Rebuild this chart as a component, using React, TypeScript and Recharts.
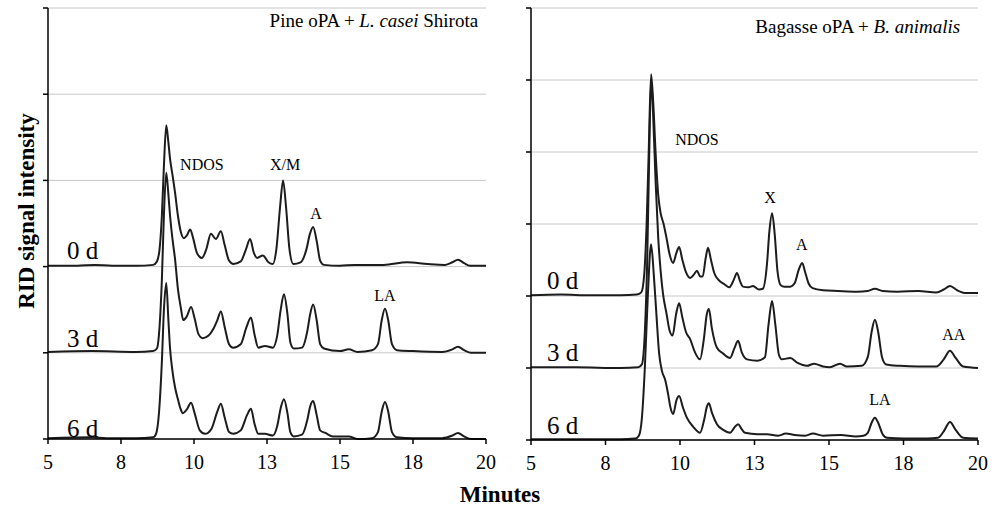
import { LineChart, Line, XAxis, YAxis, CartesianGrid, ReferenceDot } from "recharts";

type Pt = [number, number];

const X_TICKS = [5, 7.5, 10, 12.5, 15, 17.5, 20];
const PINE_Y_TICKS = [0, 1, 2, 3, 4, 5];
const BAGASSE_Y_TICKS = [0, 1, 2, 3, 4, 5, 6];
const DAYS = ["0 d", "3 d", "6 d"];
const DAY_OFFSETS = [2, 1, 0];

// Pine oPA + L. casei Shirota, intensity above each trace's own baseline
const pine0d: Pt[] = [
  [5, 0.01], [6, 0.01], [6.6, 0.02], [7.2, 0.01], [8, 0.01], [8.6, 0.02], [8.73, 0.06], [8.82, 0.2],
  [8.9, 0.59], [8.97, 1.17], [9.05, 1.64], [9.12, 1.45], [9.18, 1.25], [9.27, 1.05], [9.35, 0.86],
  [9.45, 0.59], [9.55, 0.4], [9.65, 0.33], [9.75, 0.36], [9.87, 0.43], [9.97, 0.33], [10.1, 0.16],
  [10.27, 0.1], [10.42, 0.2], [10.58, 0.38], [10.75, 0.32], [10.92, 0.41], [11.05, 0.25], [11.2, 0.07],
  [11.35, 0.03], [11.6, 0.06], [11.78, 0.2], [11.92, 0.32], [12.05, 0.16], [12.16, 0.1], [12.36, 0.13],
  [12.55, 0.05], [12.7, 0.03], [12.82, 0.2], [12.95, 0.7], [13.05, 1.0], [13.15, 0.7], [13.27, 0.2],
  [13.4, 0.03], [13.65, 0.05], [13.85, 0.2], [13.97, 0.38], [14.08, 0.46], [14.2, 0.3], [14.32, 0.07],
  [14.45, 0.02], [15, 0.01], [15.5, 0.02], [16, 0.02], [16.5, 0.02], [17.3, 0.05], [18, 0.03],
  [18.6, 0.02], [18.85, 0.05], [19.04, 0.08], [19.25, 0.04], [19.45, 0.01], [20, 0.01],
];
const pine3d: Pt[] = [
  [5, 0.01], [6.5, 0.02], [8, 0.01], [8.6, 0.02], [8.73, 0.05], [8.82, 0.3], [8.9, 0.85], [8.97, 1.6],
  [9.05, 2.09], [9.12, 1.85], [9.18, 1.59], [9.27, 1.3], [9.35, 1.09], [9.45, 0.74], [9.55, 0.52],
  [9.63, 0.38], [9.75, 0.42], [9.9, 0.53], [10.02, 0.4], [10.15, 0.22], [10.3, 0.17], [10.5, 0.2],
  [10.65, 0.27], [10.8, 0.38], [10.92, 0.48], [11.05, 0.3], [11.2, 0.1], [11.34, 0.06], [11.6, 0.1],
  [11.8, 0.3], [11.95, 0.41], [12.08, 0.2], [12.2, 0.06], [12.43, 0.08], [12.7, 0.06], [12.85, 0.2],
  [12.97, 0.5], [13.08, 0.68], [13.2, 0.45], [13.3, 0.12], [13.42, 0.05], [13.7, 0.06], [13.88, 0.25],
  [13.98, 0.45], [14.08, 0.56], [14.2, 0.38], [14.32, 0.1], [14.45, 0.05], [15, 0.02], [15.3, 0.04],
  [15.6, 0.01], [16.1, 0.03], [16.3, 0.1], [16.43, 0.38], [16.54, 0.51], [16.65, 0.38], [16.78, 0.1],
  [16.95, 0.03], [17.5, 0.02], [18.5, 0.01], [18.85, 0.04], [19.04, 0.07], [19.25, 0.03], [19.5, 0],
  [20, 0],
];
const pine6d: Pt[] = [
  [5, 0.01], [6.5, 0.02], [7, 0.01], [8, 0.01], [8.6, 0.02], [8.7, 0.06], [8.8, 0.3], [8.9, 0.9],
  [8.97, 1.5], [9.05, 1.81], [9.12, 1.4], [9.18, 1.05], [9.25, 0.82], [9.35, 0.6], [9.45, 0.46],
  [9.53, 0.36], [9.62, 0.3], [9.75, 0.34], [9.9, 0.42], [10.02, 0.3], [10.2, 0.1], [10.38, 0.06],
  [10.6, 0.12], [10.8, 0.32], [10.92, 0.41], [11.05, 0.25], [11.2, 0.08], [11.34, 0.06], [11.6, 0.1],
  [11.82, 0.28], [11.95, 0.35], [12.07, 0.18], [12.2, 0.06], [12.43, 0.06], [12.7, 0.04], [12.85, 0.15],
  [12.97, 0.36], [13.08, 0.46], [13.2, 0.3], [13.3, 0.08], [13.42, 0.03], [13.7, 0.05], [13.88, 0.22],
  [13.98, 0.38], [14.08, 0.44], [14.2, 0.28], [14.32, 0.1], [14.5, 0.07], [14.76, 0.03], [15.3, 0.03],
  [15.6, 0], [16.1, 0.01], [16.3, 0.08], [16.43, 0.32], [16.54, 0.43], [16.65, 0.32], [16.78, 0.08],
  [16.95, 0.02], [17.5, 0.01], [18.5, 0.01], [18.85, 0.04], [19.04, 0.07], [19.25, 0.03], [19.5, 0],
  [20, 0],
];

// Bagasse oPA + B. animalis
const bagasse0d: Pt[] = [
  [5, 0.01], [6, 0.02], [7, 0.01], [8, 0.01], [8.55, 0.02], [8.7, 0.05], [8.8, 0.3], [8.88, 1.0],
  [8.95, 2.0], [9.03, 3.08], [9.1, 2.7], [9.18, 2.0], [9.27, 1.4], [9.35, 1.15], [9.45, 1.0],
  [9.55, 0.8], [9.65, 0.58], [9.77, 0.46], [9.88, 0.6], [9.97, 0.68], [10.08, 0.5], [10.2, 0.33],
  [10.34, 0.25], [10.47, 0.3], [10.57, 0.35], [10.68, 0.27], [10.76, 0.27], [10.86, 0.52], [10.94, 0.67],
  [11.04, 0.5], [11.15, 0.32], [11.3, 0.22], [11.5, 0.16], [11.65, 0.12], [11.8, 0.22], [11.91, 0.32],
  [12.02, 0.2], [12.11, 0.13], [12.3, 0.12], [12.45, 0.14], [12.65, 0.09], [12.78, 0.1], [12.92, 0.45],
  [13.0, 0.9], [13.09, 1.15], [13.18, 0.85], [13.27, 0.35], [13.38, 0.15], [13.5, 0.13], [13.7, 0.13],
  [13.85, 0.18], [13.98, 0.36], [14.1, 0.46], [14.2, 0.33], [14.32, 0.17], [14.45, 0.11], [14.8, 0.08],
  [15.3, 0.07], [15.94, 0.06], [16.3, 0.07], [16.54, 0.1], [16.8, 0.07], [17.3, 0.06], [18, 0.07],
  [18.6, 0.05], [18.85, 0.09], [19.06, 0.14], [19.3, 0.08], [19.6, 0.04], [20, 0.04],
];
const bagasse3d: Pt[] = [
  [5, 0.01], [6.5, 0.01], [8, 0], [8.6, 0.01], [8.72, 0.05], [8.82, 0.5], [8.9, 1.5], [8.96, 2.8],
  [9.03, 4.0], [9.1, 3.5], [9.18, 2.6], [9.27, 1.8], [9.35, 1.35], [9.43, 1.03], [9.55, 0.75],
  [9.65, 0.52], [9.75, 0.45], [9.87, 0.75], [9.97, 0.9], [10.08, 0.7], [10.2, 0.5], [10.34, 0.4],
  [10.5, 0.22], [10.67, 0.12], [10.8, 0.4], [10.9, 0.75], [10.97, 0.82], [11.07, 0.55], [11.24, 0.28],
  [11.45, 0.2], [11.68, 0.14], [11.83, 0.28], [11.95, 0.38], [12.07, 0.22], [12.25, 0.12], [12.6, 0.1],
  [12.85, 0.15], [12.97, 0.6], [13.09, 0.93], [13.2, 0.6], [13.32, 0.18], [13.42, 0.12], [13.7, 0.14],
  [13.95, 0.07], [14.26, 0.03], [14.5, 0.06], [14.8, 0.02], [15.03, 0.01], [15.37, 0.06], [15.6, 0.02],
  [16.1, 0.03], [16.3, 0.15], [16.43, 0.5], [16.54, 0.67], [16.65, 0.5], [16.78, 0.15], [16.92, 0.05],
  [17.38, 0.03], [18, 0.02], [18.6, 0.02], [18.85, 0.12], [19.06, 0.24], [19.25, 0.14], [19.5, 0.02],
  [20, 0],
];
const bagasse6d: Pt[] = [
  [5, 0.01], [6.5, 0.01], [8, 0.01], [8.5, 0.02], [8.62, 0.06], [8.72, 0.3], [8.82, 1.0], [8.92, 2.0],
  [9.03, 2.72], [9.12, 2.3], [9.2, 1.8], [9.3, 1.2], [9.4, 0.95], [9.5, 0.84], [9.6, 0.64],
  [9.68, 0.45], [9.77, 0.36], [9.88, 0.55], [9.97, 0.61], [10.1, 0.45], [10.23, 0.31], [10.45, 0.18],
  [10.67, 0.1], [10.82, 0.3], [10.9, 0.46], [10.97, 0.51], [11.07, 0.38], [11.24, 0.22], [11.45, 0.14],
  [11.68, 0.1], [11.82, 0.17], [11.95, 0.22], [12.07, 0.15], [12.18, 0.1], [12.6, 0.08], [12.92, 0.08],
  [13.3, 0.06], [13.55, 0.09], [13.85, 0.07], [14.2, 0.06], [14.46, 0.09], [14.8, 0.06], [15.4, 0.07],
  [15.9, 0.05], [16.15, 0.06], [16.3, 0.1], [16.43, 0.24], [16.54, 0.31], [16.65, 0.24], [16.8, 0.08],
  [16.95, 0.03], [17.5, 0.02], [18.3, 0.02], [18.66, 0.03], [18.85, 0.12], [19.06, 0.25], [19.25, 0.14],
  [19.5, 0.03], [20, 0.02],
];

// peak names and where they sit (minutes, stacked intensity)
const pinePeaks = [
  { text: "NDOS", t: 10.27, v: 3.18 },
  { text: "X/M", t: 13.12, v: 3.18 },
  { text: "A", t: 14.18, v: 2.62 },
  { text: "LA", t: 16.54, v: 1.67 },
];
const bagassePeaks = [
  { text: "NDOS", t: 10.57, v: 4.18 },
  { text: "X", t: 13.02, v: 3.375 },
  { text: "A", t: 14.09, v: 2.71 },
  { text: "AA", t: 19.19, v: 1.46 },
  { text: "LA", t: 16.71, v: 0.56 },
];

const FONT = '"Liberation Serif", "Times New Roman", serif';
const INK = "#1c1c1c";

const toRows = (pts: Pt[], offset: number) => pts.map(([t, v]) => ({ t, v: v + offset }));

interface PanelProps {
  left: number;
  width: number;
  yAxisWidth: number;
  rightMargin: number;
  bottomMargin: number;
  yTicks: number[];
  traces: Pt[][];
  peaks: { text: string; t: number; v: number }[];
  dayT: number;
  dayV: number[];
  title: React.ReactNode;
  titleT: number;
  titleV: number;
}

function Panel(p: PanelProps) {
  const yMax = p.yTicks[p.yTicks.length - 1];

  // horizontal gridlines at every y tick, placed with the y axis' own scale
  const gridRows = (props: any) => {
    const scale = props?.yAxis?.scale;
    if (typeof scale === "function") return p.yTicks.map((v) => scale(v));
    const { top, height } = props.offset;
    return p.yTicks.map((v) => top + height * (1 - v / yMax));
  };

  return (
    <div style={{ position: "absolute", left: p.left, top: 0 }}>
      <LineChart
        width={p.width}
        height={507}
        margin={{ top: 8, right: p.rightMargin, left: 0, bottom: p.bottomMargin }}
      >
        <CartesianGrid
          vertical={false}
          horizontalCoordinatesGenerator={gridRows}
          stroke="#c8c8c8"
          strokeWidth={1}
        />
        <XAxis
          dataKey="t"
          type="number"
          domain={[5, 20]}
          ticks={X_TICKS}
          interval={0}
          allowDuplicatedCategory={false}
          tickFormatter={(t: number) => String(Math.round(t))}
          height={30}
          tickSize={5}
          tickMargin={11}
          axisLine={{ stroke: "#000", strokeWidth: 1.5 }}
          tickLine={{ stroke: "#000", strokeWidth: 1.5 }}
          tick={{ fill: "#000", fontSize: 20, fontFamily: FONT }}
        />
        <YAxis
          type="number"
          domain={[0, yMax]}
          ticks={p.yTicks}
          interval={0}
          width={p.yAxisWidth}
          tick={() => <g />}
          tickSize={5}
          axisLine={{ stroke: "#000", strokeWidth: 1.5 }}
          tickLine={{ stroke: "#000", strokeWidth: 1.5 }}
        />
        {p.traces.map((pts, i) => (
          <Line
            key={DAYS[i]}
            data={toRows(pts, DAY_OFFSETS[i])}
            dataKey="v"
            type="monotone"
            stroke={INK}
            strokeWidth={2}
            dot={false}
            isAnimationActive={false}
          />
        ))}
        {p.peaks.map((pk) => (
          <ReferenceDot
            key={pk.text + pk.t}
            x={pk.t}
            y={pk.v}
            r={0}
            stroke="none"
            fill="none"
            label={(lp: any) => (
              <text
                x={lp.viewBox.x}
                y={lp.viewBox.y}
                dy="0.35em"
                textAnchor="middle"
                fontFamily={FONT}
                fontSize={16}
                fill="#000"
              >
                {pk.text}
              </text>
            )}
          />
        ))}
        {DAYS.map((d, i) => (
          <ReferenceDot
            key={d}
            x={p.dayT}
            y={p.dayV[i]}
            r={0}
            stroke="none"
            fill="none"
            label={(lp: any) => (
              <text
                x={lp.viewBox.x}
                y={lp.viewBox.y}
                dy="0.35em"
                textAnchor="start"
                fontFamily={FONT}
                fontSize={25}
                fill="#000"
              >
                {d}
              </text>
            )}
          />
        ))}
        <ReferenceDot
          x={p.titleT}
          y={p.titleV}
          r={0}
          stroke="none"
          fill="none"
          label={(lp: any) => (
            <text
              x={lp.viewBox.x}
              y={lp.viewBox.y}
              dy="0.35em"
              textAnchor="end"
              fontFamily={FONT}
              fontSize={19}
              fill="#000"
            >
              {p.title}
            </text>
          )}
        />
      </LineChart>
    </div>
  );
}

export default function App() {
  return (
    <div
      style={{
        position: "absolute",
        left: 0,
        top: 0,
        width: 1003,
        height: 507,
        background: "#fff",
        overflow: "hidden",
      }}
    >
      <Panel
        left={0}
        width={500}
        yAxisWidth={48}
        rightMargin={14}
        bottomMargin={38}
        yTicks={PINE_Y_TICKS}
        traces={[pine0d, pine3d, pine6d]}
        peaks={pinePeaks}
        dayT={5.65}
        dayV={[2.19, 1.17, 0.13]}
        title={
          <>
            Pine oPA + <tspan fontStyle="italic">L. casei</tspan> Shirota
          </>
        }
        titleT={19.73}
        titleV={4.86}
      />
      <Panel
        left={500}
        width={503}
        yAxisWidth={31}
        rightMargin={25}
        bottomMargin={37}
        yTicks={BAGASSE_Y_TICKS}
        traces={[bagasse0d, bagasse3d, bagasse6d]}
        peaks={bagassePeaks}
        dayT={5.54}
        dayV={[2.22, 1.22, 0.21]}
        title={
          <>
            Bagasse oPA + <tspan fontStyle="italic">B. animalis</tspan>
          </>
        }
        titleT={19.4}
        titleV={5.74}
      />
      <svg
        width={1003}
        height={507}
        style={{ position: "absolute", left: 0, top: 0, pointerEvents: "none" }}
      >
        <text x={500} y={502} textAnchor="middle" fontFamily={FONT} fontSize={23} fontWeight="bold" fill="#000">
          Minutes
        </text>
        <text
          transform="translate(34,211) rotate(-90)"
          textAnchor="middle"
          fontFamily={FONT}
          fontSize={23}
          fontWeight="bold"
          fill="#000"
        >
          RID signal intensity
        </text>
      </svg>
    </div>
  );
}
